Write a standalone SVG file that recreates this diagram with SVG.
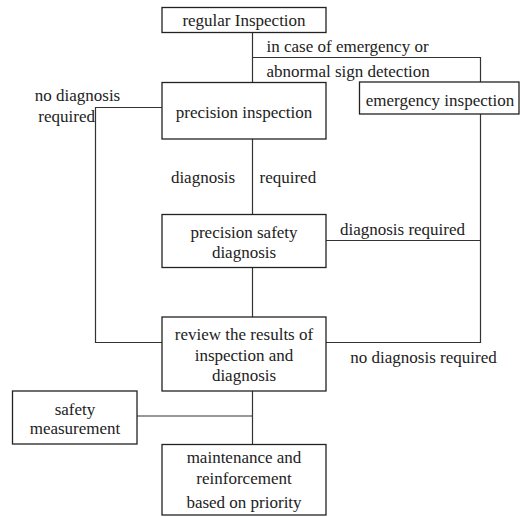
<svg xmlns="http://www.w3.org/2000/svg" width="520" height="517" viewBox="0 0 520 517">
<style>
.box{fill:#fff;stroke:#222;stroke-width:1.3}
.ln{fill:none;stroke:#333;stroke-width:1.2}
text{font-family:"Liberation Serif","DejaVu Serif",serif;font-size:17px;fill:#222}
.c{text-anchor:middle}
</style>
<rect width="520" height="517" fill="#fff"/>
<g id="connectors">
<polyline class="ln" points="252.5,32 252.5,82"/>
<polyline class="ln" points="252.5,57.5 480.5,57.5 480.5,82"/>
<polyline class="ln" points="162,107.5 95.5,107.5 95.5,342.5 162,342.5"/>
<polyline class="ln" points="480.5,114 480.5,342.5 326,342.5"/>
<polyline class="ln" points="326,240.5 480.5,240.5"/>
<polyline class="ln" points="252.5,139 252.5,214"/>
<polyline class="ln" points="252.5,267 252.5,317"/>
<polyline class="ln" points="252.5,391 252.5,444"/>
<polyline class="ln" points="137,416 252.5,416"/>
<text x="266.5" y="52">in case of emergency or</text>
<text x="266.5" y="77">abnormal sign detection</text>
<text x="77.5" y="101" class="c">no diagnosis</text>
<text x="95" y="122" text-anchor="end">required</text>
<text x="203" y="183" class="c">diagnosis</text>
<text x="259.5" y="183">required</text>
<text x="402.5" y="235" class="c">diagnosis required</text>
<text x="423.5" y="363" class="c">no diagnosis required</text>
</g>
<g id="regular-inspection">
<rect class="box" x="162" y="7.5" width="164" height="25"/>
<text x="244" y="26" class="c">regular Inspection</text>
</g>
<g id="precision-inspection">
<rect class="box" x="162" y="82.5" width="164" height="56.5"/>
<text x="244" y="118" class="c">precision inspection</text>
</g>
<g id="emergency-inspection">
<rect class="box" x="359.5" y="82" width="159.5" height="32"/>
<text x="440" y="106" class="c">emergency inspection</text>
</g>
<g id="precision-safety-diagnosis">
<rect class="box" x="162" y="214.5" width="164" height="53"/>
<text x="244" y="238" class="c">precision safety</text>
<text x="244" y="257.5" class="c">diagnosis</text>
</g>
<g id="review">
<rect class="box" x="162" y="317" width="164" height="74"/>
<text x="244" y="340" class="c">review the results of</text>
<text x="244" y="360.5" class="c">inspection and</text>
<text x="244" y="380.5" class="c">diagnosis</text>
</g>
<g id="safety-measurement">
<rect class="box" x="12.5" y="391" width="124.5" height="53"/>
<text x="75" y="415" class="c">safety</text>
<text x="75" y="434" class="c">measurement</text>
</g>
<g id="maintenance">
<rect class="box" x="162" y="444.5" width="164" height="70.5"/>
<text x="244" y="462.5" class="c">maintenance and</text>
<text x="244" y="484" class="c">reinforcement</text>
<text x="244" y="508" class="c">based on priority</text>
</g>
</svg>
